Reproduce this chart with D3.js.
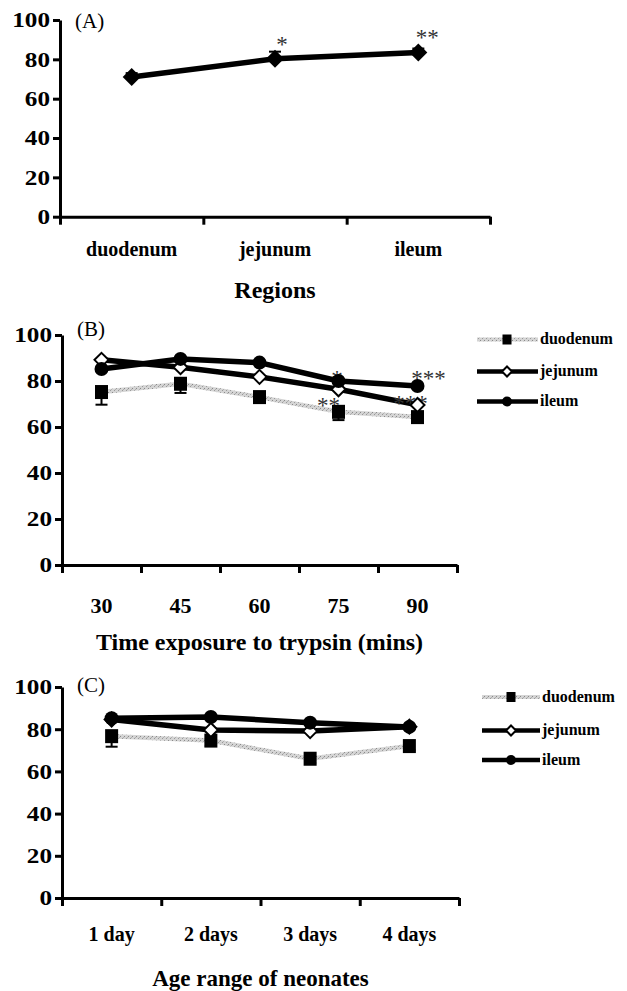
<!DOCTYPE html>
<html>
<head>
<meta charset="utf-8">
<script src="https://cdn.jsdelivr.net/npm/d3@7"></script>
<style>
  html, body { margin: 0; padding: 0; background: #fff; }
  svg text { font-family: "Liberation Serif", "Times New Roman", serif; }
</style>
</head>
<body>
<svg id="chart" width="627" height="991"></svg>
<script>
// ---------------- DATA ----------------
const yTicks = [0, 20, 40, 60, 80, 100];
const seriesNames = ["duodenum", "jejunum", "ileum"];

// Panel A
const catsA = ["duodenum", "jejunum", "ileum"];
const valsA = [71, 80.3, 83.5];
const errA = [2, 3.6, 2];
const annotA = [
  { cat: "jejunum", text: "*" },
  { cat: "ileum", text: "**" }
];

// Panel B
const catsB = ["30", "45", "60", "75", "90"];
const duoB = [75.2, 78.8, 73, 66.6, 64.3];
const jejB = [89.2, 86, 81.8, 76.4, 69.6];
const ileB = [85.2, 89.6, 88, 80, 77.8];
const duoErrB = [5.5, 4, 2, 3.6, 2];
const annotB = [
  { cat: "75", series: "ileum", text: "*" },
  { cat: "90", series: "ileum", text: "***" },
  { cat: "75", series: "duodenum", text: "**" },
  { cat: "90", series: "jejunum", text: "***" }
];

// Panel C
const catsC = ["1 day", "2 days", "3 days", "4 days"];
const duoC = [76.7, 74.6, 66, 72];
const jejC = [84.6, 79.6, 79.1, 81.2];
const ileC = [85.2, 85.8, 83.1, 81.1];
const duoErrC = [5, 2.5, 2, 2];

// ---------------- DRAWING ----------------
const svg = d3.select("#chart");
const FONT = '"Liberation Serif", "Times New Roman", serif';

// speckled gray stroke pattern for duodenum line
const defs = svg.append("defs");
const pat = defs.append("pattern").attr("id", "speckle")
  .attr("patternUnits", "userSpaceOnUse").attr("width", 4).attr("height", 4);
pat.append("rect").attr("width", 4).attr("height", 4).attr("fill", "#d4d4d4");
pat.append("rect").attr("x", 0).attr("y", 0).attr("width", 1).attr("height", 1).attr("fill", "#8a8a8a");
pat.append("rect").attr("x", 2).attr("y", 2).attr("width", 1).attr("height", 1).attr("fill", "#9a9a9a");
pat.append("rect").attr("x", 3).attr("y", 1).attr("width", 1).attr("height", 1).attr("fill", "#b0b0b0");

function marker(g, type, cx, cy, size) {
  if (type === "square") {
    g.append("rect").attr("x", cx - size / 2).attr("y", cy - size / 2 - 0.5)
      .attr("width", size).attr("height", size + 1).attr("fill", "#000");
  } else if (type === "circle") {
    g.append("circle").attr("cx", cx).attr("cy", cy).attr("r", size / 2).attr("fill", "#000");
  } else if (type === "diamond") {
    const r = size / 2;
    g.append("path").attr("d", `M${cx},${cy - r}L${cx + r},${cy}L${cx},${cy + r}L${cx - r},${cy}Z`)
      .attr("fill", "#000");
  } else if (type === "odiamond") {
    const r = size / 2;
    g.append("path").attr("d", `M${cx},${cy - r}L${cx + r},${cy}L${cx},${cy + r}L${cx - r},${cy}Z`)
      .attr("fill", "#fff").attr("stroke", "#000").attr("stroke-width", 2);
  }
}

function drawPanel(o) {
  const g = svg.append("g");
  const y = d3.scaleLinear().domain([0, 100]).range([o.yBottom, o.yTop]);
  const band = d3.scaleBand().domain(o.cats).range([o.x0, o.x1]);
  const cx = c => band(c) + band.bandwidth() / 2;
  const lin = d3.scaleLinear().domain([0, o.cats.length]).range([o.x0, o.x1]);

  // y axis
  const ya = g.append("g").attr("transform", `translate(${o.x0},0)`)
    .call(d3.axisLeft(y).tickValues(yTicks).tickSize(7).tickSizeOuter(0).tickPadding(0));
  ya.select(".domain").attr("stroke-width", 3).attr("stroke", "#000");
  ya.selectAll(".tick line").attr("stroke-width", 3).attr("stroke", "#000");
  ya.selectAll(".tick text")
    .attr("font-family", FONT).attr("font-weight", "bold").attr("font-size", 21)
    .attr("fill", "#000")
    .attr("x", -10 / 1.2).attr("dy", "0.33em")
    .attr("transform", "scale(1.2,1)");

  // x axis boundary ticks
  const xa = g.append("g").attr("transform", `translate(0,${o.yBottom})`)
    .call(d3.axisBottom(lin).tickValues(d3.range(o.cats.length + 1)).tickSize(8).tickSizeOuter(0).tickFormat(""));
  xa.select(".domain").attr("stroke-width", 3).attr("stroke", "#000");
  xa.selectAll(".tick line").attr("stroke-width", 3).attr("stroke", "#000");

  // x labels
  const xl = g.append("g").attr("transform", `translate(0,${o.labelY})`)
    .call(d3.axisBottom(band).tickSize(0).tickPadding(0));
  xl.select(".domain").remove();
  xl.selectAll(".tick text").attr("y", 0).attr("dy", 0)
    .attr("font-family", FONT).attr("font-weight", "bold").attr("font-size", o.labelSize)
    .attr("fill", "#000");

  // axis title
  g.append("text").attr("x", (o.x0 + o.x1) / 2).attr("y", o.titleY)
    .attr("text-anchor", "middle").attr("font-family", FONT).attr("font-weight", "bold")
    .attr("font-size", o.titleSize).attr("fill", "#000").text(o.title);

  // panel letter
  g.append("text").attr("x", o.x0 + 15).attr("y", o.letterY)
    .attr("font-family", FONT).attr("font-size", 21).attr("fill", "#000").text(o.letter);

  // lines
  o.series.forEach(s => {
    const line = d3.line().x((d, i) => cx(o.cats[i])).y(d => y(d));
    if (s.gray) {
      g.append("path").attr("d", line(s.vals)).attr("fill", "none")
        .attr("stroke", "url(#speckle)").attr("stroke-width", 4.5);
    } else {
      g.append("path").attr("d", line(s.vals)).attr("fill", "none")
        .attr("stroke", "#000").attr("stroke-width", s.width || 5.5).attr("stroke-linejoin", "round");
    }
  });

  // annotations
  (o.annots || []).forEach((a, i) => {
    const s = o.series.find(t => t.name === (a.series || o.series[0].name));
    const v = s.vals[o.cats.indexOf(a.cat)];
    const off = o.annotOffsets[i];
    g.append("text").attr("x", cx(a.cat) + off[0]).attr("y", y(v) + off[1])
      .attr("text-anchor", "middle").attr("font-family", FONT).attr("font-size", 23)
      .attr("fill", "#333").text(a.text);
  });

  // error bars and markers
  o.series.forEach(s => {
    s.vals.forEach((v, i) => {
      const x = cx(o.cats[i]);
      if (s.err) {
        const e = s.err[i];
        const yE = s.errDir === "up" ? y(v + e) : y(v - e);
        g.append("line").attr("x1", x).attr("x2", x).attr("y1", y(v)).attr("y2", yE)
          .attr("stroke", "#000").attr("stroke-width", 2);
        g.append("line").attr("x1", x - 6).attr("x2", x + 6).attr("y1", yE).attr("y2", yE)
          .attr("stroke", "#000").attr("stroke-width", 2);
      }
    });
  });
  o.series.forEach(s => {
    s.vals.forEach((v, i) => marker(g, s.marker, cx(o.cats[i]), y(v), s.size));
  });

  // legend
  if (o.legend) {
    const L = o.legend;
    o.series.forEach((s, i) => {
      const ly = L.ys[i];
      if (s.gray) {
        g.append("line").attr("x1", L.x0).attr("x2", L.x1).attr("y1", ly).attr("y2", ly)
          .attr("stroke", "url(#speckle)").attr("stroke-width", 4);
      } else {
        g.append("line").attr("x1", L.x0).attr("x2", L.x1).attr("y1", ly).attr("y2", ly)
          .attr("stroke", "#000").attr("stroke-width", 4.5);
      }
      marker(g, s.marker, L.mx, ly, s.marker === "square" ? 9 : 10);
      g.append("text").attr("x", L.x1 + 2).attr("y", ly).attr("dy", "0.3em")
        .attr("font-family", FONT).attr("font-weight", "bold").attr("font-size", 16)
        .attr("fill", "#000").text(s.name);
    });
  }
}

// Panel A
drawPanel({
  x0: 60, x1: 490, yBottom: 216.7, yTop: 20,
  cats: catsA, labelY: 256, labelSize: 20,
  title: "Regions", titleY: 298, titleSize: 24,
  letter: "(A)", letterY: 28,
  series: [{ name: "regions", vals: valsA, err: errA, errDir: "up", marker: "diamond", size: 18, width: 5.5 }],
  annots: annotA, annotOffsets: [[7, -7], [9, -7]]
});

// Panel B
drawPanel({
  x0: 62, x1: 457, yBottom: 565, yTop: 335,
  cats: catsB, labelY: 613, labelSize: 22,
  title: "Time exposure to trypsin (mins)", titleY: 650, titleSize: 24,
  letter: "(B)", letterY: 336,
  series: [
    { name: seriesNames[0], vals: duoB, err: duoErrB, errDir: "down", marker: "square", size: 13, gray: true },
    { name: seriesNames[1], vals: jejB, marker: "odiamond", size: 14 },
    { name: seriesNames[2], vals: ileB, marker: "circle", size: 14 }
  ],
  annots: annotB, annotOffsets: [[-1.5, 5], [11, 0], [-10, 1], [-7, 6.5]],
  legend: { x0: 477, x1: 538, mx: 507, ys: [339.5, 371.5, 401.5] }
});

// Panel C
drawPanel({
  x0: 62, x1: 459, yBottom: 898, yTop: 687,
  cats: catsC, labelY: 940.5, labelSize: 20,
  title: "Age range of neonates", titleY: 986, titleSize: 23,
  letter: "(C)", letterY: 692,
  series: [
    { name: seriesNames[0], vals: duoC, err: duoErrC, errDir: "down", marker: "square", size: 13, gray: true },
    { name: seriesNames[1], vals: jejC, marker: "odiamond", size: 14 },
    { name: seriesNames[2], vals: ileC, marker: "circle", size: 14 }
  ],
  legend: { x0: 482, x1: 540, mx: 511, ys: [697, 730.5, 760] }
});
</script>
</body>
</html>
